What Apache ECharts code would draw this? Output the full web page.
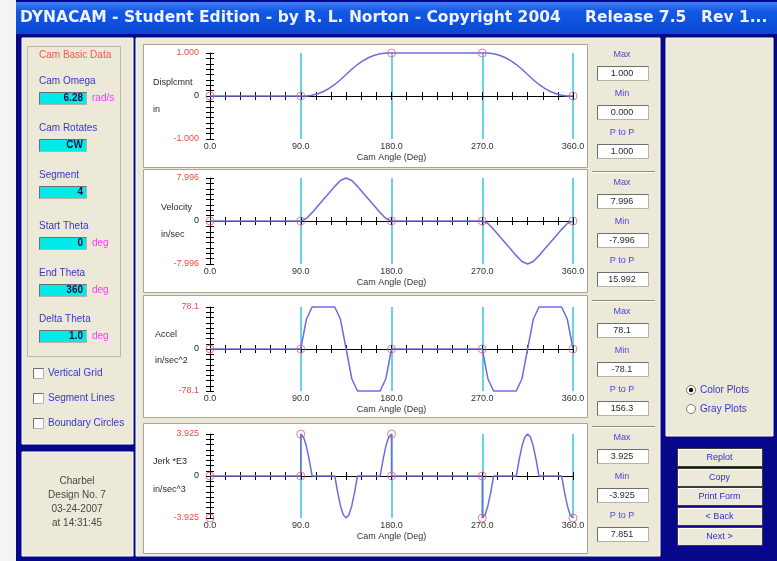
<!DOCTYPE html>
<html>
<head>
<meta charset="utf-8">
<title>DYNACAM</title>
<script src="https://cdn.jsdelivr.net/npm/echarts@6/dist/echarts.min.js"></script>
<style>
  html, body { margin: 0; padding: 0; background: #f4f4f4; }
  #chart { width: 777px; height: 561px; }
</style>
</head>
<body>
<div id="chart"></div>
<script>
// cam angle samples (deg) for rise and fall, dwells are just the straight runs between them
const riseAngle = [90, 95.625, 101.25, 106.875, 112.5, 118.125, 123.75, 129.375, 135, 140.625, 146.25, 151.875, 157.5, 163.125, 168.75, 174.375, 180]
const fallAngle = [270, 275.625, 281.25, 286.875, 292.5, 298.125, 303.75, 309.375, 315, 320.625, 326.25, 331.875, 337.5, 343.125, 348.75, 354.375, 360]

const dispStart = 0
const dispRise = [0, 0.0024, 0.0177, 0.0515, 0.1045, 0.1765, 0.2677, 0.3774, 0.5, 0.6226, 0.7323, 0.8235, 0.8955, 0.9485, 0.9823, 0.9976, 1]
const dispFall = [1, 0.9976, 0.9823, 0.9485, 0.8955, 0.8235, 0.7323, 0.6226, 0.5, 0.3774, 0.2677, 0.1765, 0.1045, 0.0515, 0.0177, 0.0024, 0]

const velStart = 0
const velRise = [0, 0.456, 1.555, 2.777, 3.998, 5.219, 6.441, 7.541, 7.996, 7.541, 6.441, 5.219, 3.998, 2.777, 1.555, 0.456, 0]
const velFall = [0, -0.456, -1.555, -2.777, -3.998, -5.219, -6.441, -7.541, -7.996, -7.541, -6.441, -5.219, -3.998, -2.777, -1.555, -0.456, 0]

const accStart = 0
const accRise = [0, 55.3, 78.1, 78.1, 78.1, 78.1, 78.1, 55.3, 0, -55.3, -78.1, -78.1, -78.1, -78.1, -78.1, -55.3, 0]
const accFall = [0, -55.3, -78.1, -78.1, -78.1, -78.1, -78.1, -55.3, 0, 55.3, 78.1, 78.1, 78.1, 78.1, 78.1, 55.3, 0]

// jerk has jumps, so it keeps its own angle list (repeated angles = vertical steps)
const jerkAngle = [0, 90, 90, 92.8125, 95.625, 98.4375, 101.25, 123.75, 126.5625, 129.375, 132.1875, 135, 137.8125, 140.625, 143.4375, 146.25, 168.75, 171.5625, 174.375, 177.1875, 180, 180,
  270, 270, 272.8125, 275.625, 278.4375, 281.25, 303.75, 306.5625, 309.375, 312.1875, 315, 317.8125, 320.625, 323.4375, 326.25, 348.75, 351.5625, 354.375, 357.1875, 360]
const jerkValue = [0, 0, 3.925, 3.626, 2.775, 1.502, 0, 0, -1.502, -2.775, -3.626, -3.925, -3.626, -2.775, -1.502, 0, 0, 1.502, 2.775, 3.626, 3.925, 0,
  0, -3.925, -3.626, -2.775, -1.502, 0, 0, 1.502, 2.775, 3.626, 3.925, 3.626, 2.775, 1.502, 0, 0, -1.502, -2.775, -3.626, -3.925]

// boundary circles
const boundaryAngle = [0, 90, 180, 270, 360]
const dispBoundary = [0, 0, 1, 1, 0]
const velBoundary = [0, 0, 0, 0, 0]
const accBoundary = [0, 0, 0, 0, 0]
const jerkBoundaryAngle = [0, 0, 90, 90, 180, 180, 270, 270, 360]
const jerkBoundaryValue = [0, -3.925, 0, 3.925, 3.925, 0, 0, -3.925, -3.925]

const segmentAngles = [90, 180, 270, 360]

const plotMax = [1, 7.996, 78.1, 3.925]
const yTopLabels = ['1.000', '7.996', '78.1', '3.925']
const yBottomLabels = ['-1.000', '-7.996', '-78.1', '-3.925']
const yNames = ['Displcmnt', 'Velocity', 'Accel', 'Jerk *E3']
const yUnits = ['in', 'in/sec', 'in/sec^2', 'in/sec^3']
const statMax = ['1.000', '7.996', '78.1', '3.925']
const statMin = ['0.000', '-7.996', '-78.1', '-3.925']
const statPtoP = ['1.000', '15.992', '156.3', '7.851']

const basicLabels = ['Cam Omega', 'Cam Rotates', 'Segment', 'Start Theta', 'End Theta', 'Delta Theta']
const basicValues = ['6.28', 'CW', '4', '0', '360', '1.0']
const basicUnits = ['rad/s', '', '', 'deg', 'deg', 'deg']
const checkLabels = ['Vertical Grid', 'Segment Lines', 'Boundary Circles']
const designLines = ['Charbel', 'Design No. 7', '03-24-2007', 'at 14:31:45']
const buttonLabels = ['Replot', 'Copy', 'Print Form', '< Back', 'Next >']

// layout
const FONT = '"Liberation Sans", Arial, sans-serif'
const TITLE_FONT = '"DejaVu Sans", Verdana, sans-serif'
const NAVY = '#07078a'
const BEIGE = '#ece9d8'
const BLUE_TEXT = '#3636c8'
const gridTop = [53, 178, 307, 434]
const gridHeight = [86, 86, 84, 84]
const plotBoxTop = [44, 169, 295, 423]
const plotBoxHeight = [123, 123, 122, 130]
const nameX = [153, 161, 155, 153]
const nameY = [83, 208, 335, 462]
const unitY = [110, 235, 361, 490]
const statTop = [55, 183, 312, 438]

function pairs (angles, values) {
  return angles.map((a, i) => [a, values[i]])
}

const curves = [
  [[0, dispStart]].concat(pairs(riseAngle, dispRise), pairs(fallAngle, dispFall)),
  [[0, velStart]].concat(pairs(riseAngle, velRise), pairs(fallAngle, velFall)),
  [[0, accStart]].concat(pairs(riseAngle, accRise), pairs(fallAngle, accFall)),
  pairs(jerkAngle, jerkValue)
]
const circles = [
  pairs(boundaryAngle, dispBoundary),
  pairs(boundaryAngle, velBoundary),
  pairs(boundaryAngle, accBoundary),
  pairs(jerkBoundaryAngle, jerkBoundaryValue)
]

// ---- window chrome drawn with graphic elements ----
function txt (x, y, s, color, size, align, weight, family) {
  const a = align || 'left'
  return {
    type: 'text', x, y, z: 20, silent: true,
    style: {
      text: s, fill: color,
      font: (weight || 'normal') + ' ' + (size || 10) + 'px ' + (family || FONT),
      align: a, verticalAlign: 'middle', textAlign: a, textVerticalAlign: 'middle'
    }
  }
}
function box (x, y, w, h, fill, stroke, z) {
  return {
    type: 'rect', z: z || 1, silent: true,
    shape: { x, y, width: w, height: h },
    style: { fill, stroke: stroke || null, lineWidth: 1 }
  }
}
function seg (x1, y1, x2, y2, color, z) {
  return { type: 'line', z: z || 3, silent: true, shape: { x1, y1, x2, y2 }, style: { stroke: color, lineWidth: 1 } }
}
function sunken (x, y, w, h, fill) {
  return [
    box(x + 0.5, y + 0.5, w, h, fill, '#b8b4a4', 2),
    seg(x + 0.5, y + 0.5, x + w + 0.5, y + 0.5, '#6e6e6e'),
    seg(x + 0.5, y + 0.5, x + 0.5, y + h + 0.5, '#6e6e6e')
  ]
}

const g = []
g.push(box(16, 0, 761, 561, NAVY, null, 0))
g.push({
  type: 'rect', z: 1, silent: true,
  shape: { x: 16, y: 2, width: 761, height: 32 },
  style: {
    fill: {
      type: 'linear', x: 0, y: 0, x2: 0, y2: 1,
      colorStops: [{ offset: 0, color: '#3c7ef4' }, { offset: 0.3, color: '#1259e4' }, { offset: 1, color: '#0a47d2' }]
    }
  }
})
g.push(txt(20, 18, 'DYNACAM - Student Edition - by R. L. Norton - Copyright 2004', '#eef3ff', 15.5, 'left', 'bold', TITLE_FONT))
g.push(txt(585, 18, 'Release 7.5', '#eef3ff', 15.5, 'left', 'bold', TITLE_FONT))
g.push(txt(701, 18, 'Rev 1...', '#eef3ff', 15.5, 'left', 'bold', TITLE_FONT))

// left input panel
g.push(box(22, 38, 111, 406, BEIGE, '#fdfdf8', 1))
g.push(box(27.5, 46.5, 93, 310, null, '#bdb8a6', 2))
g.push(txt(39, 55, 'Cam Basic Data', '#ee5a4a', 10))
const basicLabelY = [81, 128, 175, 226, 273, 319]
basicLabels.forEach((lab, i) => {
  const y = basicLabelY[i]
  g.push(txt(39, y, lab, BLUE_TEXT, 10))
  sunken(39, y + 11, 47, 12, '#00eaea').forEach(e => g.push(e))
  g.push(txt(83, y + 17.5, basicValues[i], '#101040', 10, 'right', 'bold'))
  if (basicUnits[i]) g.push(txt(92, y + 17.5, basicUnits[i], '#ff38ff', 10))
})
const checkY = [373, 398, 423]
checkLabels.forEach((lab, i) => {
  sunken(33, checkY[i] - 5, 10, 10, '#ffffff').forEach(e => g.push(e))
  g.push(txt(48, checkY[i], lab, BLUE_TEXT, 10))
})

// design info panel
g.push(box(22, 452, 111, 104, BEIGE, '#fdfdf8', 1))
designLines.forEach((s, i) => g.push(txt(77, 481 + i * 14, s, '#474747', 10, 'center')))

// main plot panel
g.push(box(136, 38, 524, 518, BEIGE, '#fdfdf8', 1))
plotBoxTop.forEach((top, i) => {
  g.push(box(143.5, top + 0.5, 444, plotBoxHeight[i], '#ffffff', '#a9a595', 2))
  g.push(txt(nameX[i], nameY[i], yNames[i], '#2a2a2a', 9))
  g.push(txt(nameX[i], unitY[i], yUnits[i], '#2a2a2a', 9))

  const t = statTop[i]
  const labels = ['Max', 'Min', 'P to P']
  const values = [statMax[i], statMin[i], statPtoP[i]]
  labels.forEach((lab, k) => {
    g.push(txt(622, t + k * 39, lab, '#4848d8', 9, 'center'))
    sunken(597, t + k * 39 + 11, 51, 14, '#ffffff').forEach(e => g.push(e))
    g.push(txt(622, t + k * 39 + 18.5, values[k], '#2a2a2a', 9, 'center'))
  })
  if (i > 0) {
    g.push(seg(592, t - 11.5, 655, t - 11.5, '#8e8a7c'))
    g.push(seg(592, t - 10.5, 655, t - 10.5, '#ffffff'))
  }
})

// right option panel
g.push(box(666, 38, 107, 398, BEIGE, '#fdfdf8', 1))
const radioLabels = ['Color Plots', 'Gray Plots']
radioLabels.forEach((lab, i) => {
  const y = 390 + i * 19
  g.push({ type: 'circle', z: 3, silent: true, shape: { cx: 691, cy: y, r: 4.5 }, style: { fill: '#ffffff', stroke: '#7a7a7a', lineWidth: 1 } })
  if (i === 0) g.push({ type: 'circle', z: 4, silent: true, shape: { cx: 691, cy: y, r: 2.2 }, style: { fill: '#111111' } })
  g.push(txt(700, y, lab, BLUE_TEXT, 10))
})

// buttons
const buttonTop = [448, 468, 487, 507, 527]
buttonLabels.forEach((lab, i) => {
  const y = buttonTop[i]
  g.push(box(677.5, y + 0.5, 85, 18, BEIGE, '#3a3a3a', 2))
  g.push(seg(678.5, y + 1.5, 761.5, y + 1.5, '#ffffff'))
  g.push(seg(678.5, y + 1.5, 678.5, y + 17.5, '#ffffff'))
  g.push(txt(719.5, y + 9.5, lab, '#2d2dd0', 9, 'center'))
})

// ---- the four plots ----
const grid = []
const xAxis = []
const yAxis = []
const series = []

plotMax.forEach((max, i) => {
  grid.push({ left: 210, top: gridTop[i], width: 363, height: gridHeight[i] })

  const xBase = { gridIndex: i, type: 'value', min: 0, max: 360, position: 'bottom', splitLine: { show: false }, z: 6 }
  xAxis.push({
    ...xBase,
    interval: 15,
    axisLine: { onZero: true, lineStyle: { color: '#000000', width: 1 } },
    axisTick: { length: 4, lineStyle: { color: '#000000' } },
    axisLabel: { show: false }
  })
  xAxis.push({
    ...xBase,
    interval: 15,
    axisLine: { show: false, onZero: true },
    axisTick: { inside: true, length: 4, lineStyle: { color: '#000000' } },
    axisLabel: { show: false }
  })
  xAxis.push({
    ...xBase,
    interval: 90,
    axisLine: { show: false, onZero: false },
    axisTick: { show: false },
    axisLabel: { margin: 3, fontSize: 9, color: '#333333', fontFamily: FONT, formatter: v => v.toFixed(1) },
    name: 'Cam Angle (Deg)',
    nameLocation: 'middle',
    nameGap: 14,
    nameTextStyle: { fontSize: 9, color: '#333333', fontFamily: FONT }
  })

  const yBase = { gridIndex: i, type: 'value', min: -max, max, interval: max / 8, position: 'left', splitLine: { show: false }, z: 6 }
  const eps = max * 1e-6
  yAxis.push({
    ...yBase,
    axisLine: { onZero: false, lineStyle: { color: '#000000', width: 1 } },
    axisTick: { length: 4, lineStyle: { color: '#000000' } },
    axisLabel: {
      margin: 11,
      fontSize: 9,
      fontFamily: FONT,
      formatter: v => {
        if (Math.abs(v - max) < eps) return '{r|' + yTopLabels[i] + '}'
        if (Math.abs(v + max) < eps) return '{r|' + yBottomLabels[i] + '}'
        if (Math.abs(v) < eps) return '{k|0}'
        return ''
      },
      rich: {
        r: { color: '#f04848', fontSize: 9, fontFamily: FONT },
        k: { color: '#222222', fontSize: 9, fontFamily: FONT }
      }
    }
  })
  yAxis.push({
    ...yBase,
    axisLine: { show: false, onZero: false },
    axisTick: { inside: true, length: 4, lineStyle: { color: '#000000' } },
    axisLabel: { show: false }
  })

  // cyan segment boundary lines
  series.push({
    type: 'line',
    xAxisIndex: i * 3,
    yAxisIndex: i * 2,
    data: [],
    silent: true,
    markLine: {
      silent: true,
      symbol: 'none',
      z: 4,
      animation: false,
      label: { show: false },
      lineStyle: { color: '#3ccbe0', width: 1.6, type: 'solid', opacity: 1 },
      data: segmentAngles.map(a => ({ xAxis: a }))
    }
  })
  series.push({
    type: 'line',
    xAxisIndex: i * 3,
    yAxisIndex: i * 2,
    data: curves[i],
    symbol: 'none',
    clip: false,
    z: 8,
    lineStyle: { color: '#6c6ce0', width: 1.5 }
  })
  series.push({
    type: 'scatter',
    xAxisIndex: i * 3,
    yAxisIndex: i * 2,
    data: circles[i],
    symbol: 'circle',
    symbolSize: 8,
    silent: true,
    z: 9,
    itemStyle: { color: 'rgba(255,255,255,0)', borderColor: '#e45c78', borderWidth: 1 }
  })
})

const chart = echarts.init(document.getElementById('chart'))
chart.setOption({
  animation: false,
  backgroundColor: 'transparent',
  graphic: { elements: g },
  grid,
  xAxis,
  yAxis,
  series
})
</script>
</body>
</html>
